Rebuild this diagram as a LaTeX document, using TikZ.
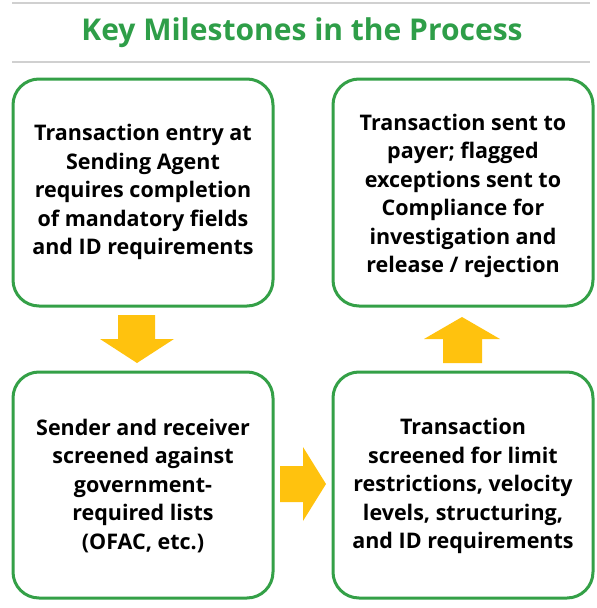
\documentclass[tikz,border=0pt]{standalone}
\usepackage{fontspec}
\setmainfont{Open Sans}
\definecolor{kgreen}{HTML}{34A047}
\definecolor{ktitle}{HTML}{2E9E48}
\definecolor{kyellow}{HTML}{FFC20E}
\definecolor{kgrey}{HTML}{D0D0D0}
\begin{document}
\begin{tikzpicture}[x=1pt,y=-1pt,
  stepbox/.style={draw=kgreen,line width=3pt,rounded corners=26pt,fill=white},
  boxtext/.style={font=\bfseries\fontsize{21.5}{28.5}\selectfont,align=center,text=black,inner sep=0pt},
  bigarrow/.style={fill=kyellow,draw=none}]
\useasboundingbox (0,0) rectangle (597,608);
\draw[kgrey,line width=1.2pt] (12,3) -- (590,3);
\draw[kgrey,line width=1.2pt] (12,62) -- (590,62);
\node[text=ktitle,font=\bfseries\fontsize{30}{34}\selectfont] (title) at (302,33) {Key Milestones in the Process};
% boxes
\draw[stepbox] (13,79) rectangle (273,306);
\draw[stepbox] (13,372) rectangle (273,598);
\draw[stepbox] (333,79) rectangle (593,306);
\draw[stepbox] (333,372) rectangle (593,598);
\node[boxtext] (a) at (143,192) {Transaction entry at\\Sending Agent\\requires completion\\of mandatory fields\\and ID requirements};
\node[boxtext] (b) at (143,486) {Sender and receiver\\screened against\\government-\\required lists\\(OFAC, etc.)};
\node[boxtext] (c) at (463,486) {Transaction\\screened for limit\\restrictions, velocity\\levels, structuring,\\and ID requirements};
\node[boxtext] (d) at (463,196) {Transaction sent to\\payer; flagged\\exceptions sent to\\Compliance for\\investigation and\\release / rejection};
% arrows
\fill[bigarrow] (118,315) -- (155,315) -- (155,339) -- (174,339) -- (137,363) -- (100,339) -- (118,339) -- cycle;
\fill[bigarrow] (280,466) -- (303,466) -- (303,447) -- (326,484) -- (303,521) -- (303,502) -- (280,502) -- cycle;
\fill[bigarrow] (443,363) -- (482,363) -- (482,339) -- (500,339) -- (462,317) -- (424,339) -- (443,339) -- cycle;
\end{tikzpicture}
\end{document}
